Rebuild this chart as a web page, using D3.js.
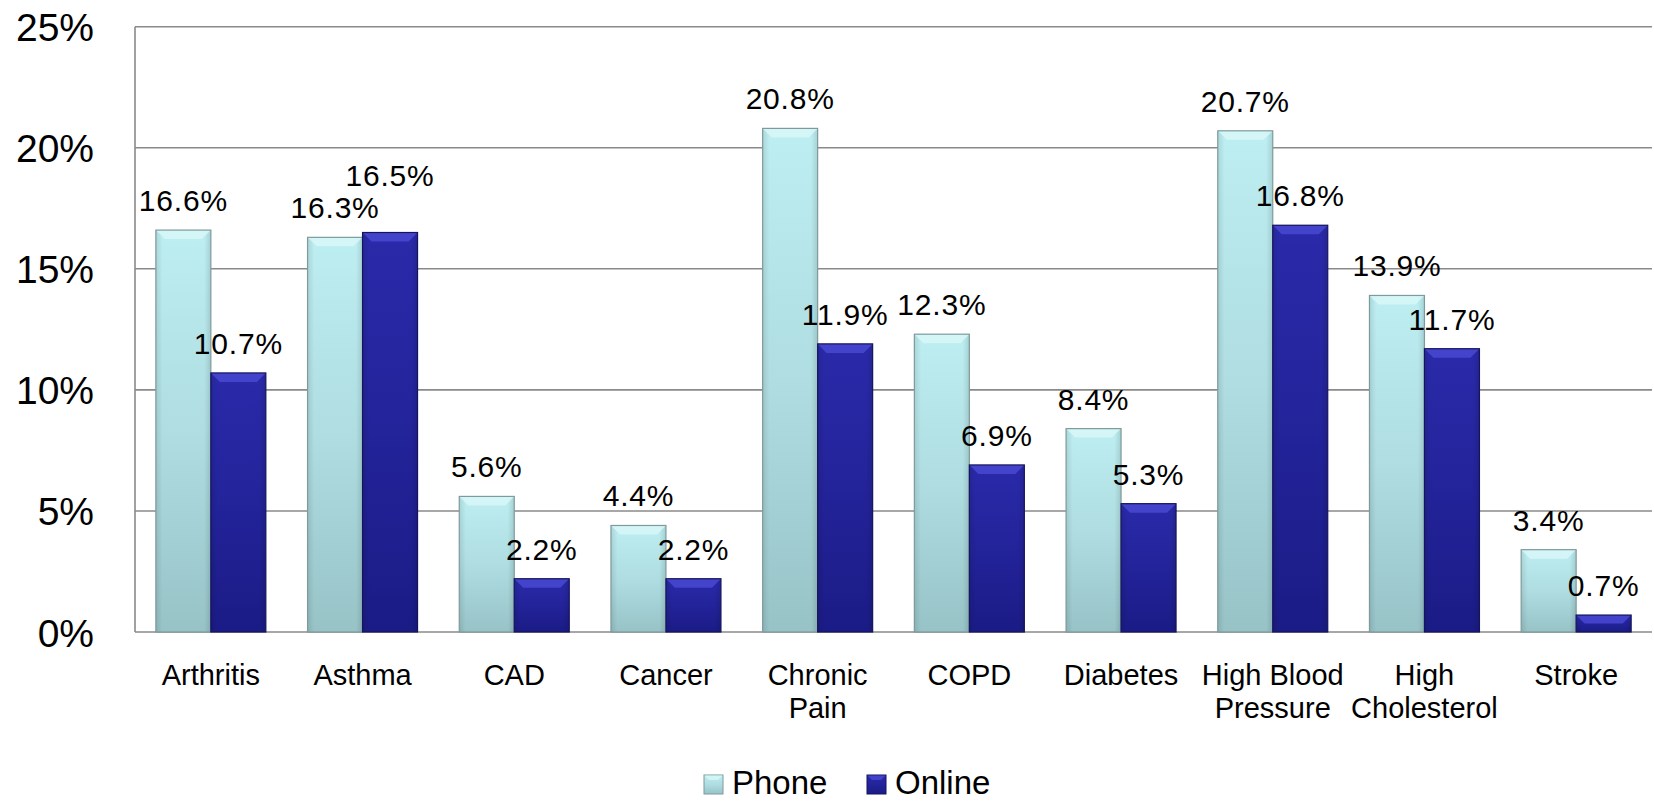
<!DOCTYPE html>
<html>
<head>
<meta charset="utf-8">
<script src="https://cdn.jsdelivr.net/npm/d3@7/dist/d3.min.js"></script>
<style>
  html, body { margin: 0; padding: 0; background: #fff; }
  svg { display: block; font-family: "Liberation Sans", Arial, sans-serif; }
</style>
</head>
<body>
<svg id="chart" width="1654" height="803"></svg>
<script>
// Condition prevalence by survey mode
const categories = ["Arthritis", "Asthma", "CAD", "Cancer", "Chronic Pain", "COPD",
  "Diabetes", "High Blood Pressure", "High Cholesterol", "Stroke"];
const tickLabels = [["Arthritis"], ["Asthma"], ["CAD"], ["Cancer"], ["Chronic", "Pain"], ["COPD"],
  ["Diabetes"], ["High Blood", "Pressure"], ["High", "Cholesterol"], ["Stroke"]];
const phone  = [16.6, 16.3, 5.6, 4.4, 20.8, 12.3, 8.4, 20.7, 13.9, 3.4];
const online = [10.7, 16.5, 2.2, 2.2, 11.9, 6.9, 5.3, 16.8, 11.7, 0.7];
const seriesNames = ["Phone", "Online"];
const yTicks = [0, 5, 10, 15, 20, 25];

const svg = d3.select("#chart");
const plotLeft = 135, plotRight = 1652, plotTop = 26.7, plotBottom = 632;

const x = d3.scaleBand().domain(categories).range([plotLeft, plotRight])
  .paddingInner(0.275).paddingOuter(0.1375);
const xs = d3.scaleBand().domain(seriesNames).range([0, x.bandwidth()]);
const y = d3.scaleLinear().domain([0, 25]).range([plotBottom, plotTop]);

// gradients
const defs = svg.append("defs");
function vgrad(id, stops) {
  const g = defs.append("linearGradient").attr("id", id)
    .attr("x1", 0).attr("y1", 0).attr("x2", 0).attr("y2", 1);
  stops.forEach(([o, c]) => g.append("stop").attr("offset", o).attr("stop-color", c));
}
function hgrad(id, stops) {
  const g = defs.append("linearGradient").attr("id", id)
    .attr("x1", 0).attr("y1", 0).attr("x2", 1).attr("y2", 0);
  stops.forEach(([o, c, a]) => g.append("stop").attr("offset", o)
    .attr("stop-color", c).attr("stop-opacity", a));
}
vgrad("gPhone", [[0, "#bdeef1"], [0.5, "#afdde1"], [1, "#97c3c7"]]);
vgrad("gOnline", [[0, "#2a2aaa"], [0.5, "#23239a"], [1, "#1b1b86"]]);
hgrad("gSide", [[0, "#000", 0.10], [0.12, "#000", 0.0], [0.88, "#000", 0.0], [1, "#000", 0.12]]);

const styles = {
  Phone:  { fill: "url(#gPhone)", stroke: "#7f9a9c", cap: "#d8f7f8" },
  Online: { fill: "url(#gOnline)", stroke: "#15155e", cap: "#4848d2" }
};

// gridlines
const grid = svg.append("g");
grid.selectAll("line").data(yTicks).join("line")
  .attr("x1", plotLeft).attr("x2", plotRight)
  .attr("y1", d => y(d)).attr("y2", d => y(d))
  .attr("stroke", "#8a8a8a").attr("stroke-width", 1.6);
svg.append("line").attr("x1", plotLeft).attr("x2", plotLeft).attr("y1", plotTop).attr("y2", plotBottom)
  .attr("stroke", "#8a8a8a").attr("stroke-width", 1.6);

// y axis labels
const yAxis = d3.axisLeft(y).tickValues(yTicks).tickFormat(d => d + "%").tickSize(0).tickPadding(0);
const yg = svg.append("g").attr("transform", "translate(94,0)").call(yAxis);
yg.select(".domain").remove();
yg.selectAll("text").attr("font-size", 39).attr("fill", "#000")
  .attr("font-family", "Liberation Sans, Arial, sans-serif").attr("dy", "0.36em");

// bars
const rows = categories.map((c, i) => ({ c, vals: [{ s: "Phone", v: phone[i] }, { s: "Online", v: online[i] }] }));
const groups = svg.append("g").selectAll("g").data(rows).join("g")
  .attr("transform", d => `translate(${x(d.c)},0)`);

const bars = groups.selectAll("g.bar").data(d => d.vals).join("g").attr("class", "bar");
bars.each(function(d) {
  const g = d3.select(this);
  const bx = xs(d.s), bw = xs.bandwidth();
  const by = y(d.v), bh = y(0) - y(d.v);
  const st = styles[d.s];
  g.append("rect").attr("x", bx).attr("y", by).attr("width", bw).attr("height", bh)
    .attr("fill", st.fill);
  g.append("rect").attr("x", bx).attr("y", by).attr("width", bw).attr("height", bh)
    .attr("fill", "url(#gSide)");
  // bevelled top
  const bev = Math.min(9, bh / 2);
  g.append("path")
    .attr("d", `M${bx},${by} L${bx + bw},${by} L${bx + bw - bev},${by + bev} L${bx + bev},${by + bev} Z`)
    .attr("fill", st.cap).attr("opacity", 0.85);
  g.append("rect").attr("x", bx).attr("y", by).attr("width", bw).attr("height", bh)
    .attr("fill", "none").attr("stroke", st.stroke).attr("stroke-width", 1.2);
});

// value labels; an Online label that would collide with its Phone neighbour is lifted above it
const labelGap = 19, lineStep = 32;
function labelY(d, row) {
  const base = y(d.v) - labelGap;
  if (d.s === "Online") {
    const pBase = y(row.vals[0].v) - labelGap;
    if (Math.abs(base - pBase) < lineStep) return Math.min(base, pBase - lineStep);
  }
  return base;
}
groups.each(function(row) {
  d3.select(this).selectAll("text.val").data(row.vals).join("text").attr("class", "val")
    .attr("x", d => xs(d.s) + xs.bandwidth() / 2)
    .attr("y", d => labelY(d, row))
    .attr("text-anchor", "middle")
    .attr("font-size", 30).attr("letter-spacing", 0.8).attr("fill", "#000")
    .text(d => d.v.toFixed(1) + "%");
});

// x axis labels
const xl = svg.append("g").selectAll("text").data(categories).join("text")
  .attr("x", d => x(d) + x.bandwidth() / 2)
  .attr("y", 685)
  .attr("text-anchor", "middle")
  .attr("font-size", 29).attr("fill", "#000");
xl.each(function(d, i) {
  const t = d3.select(this);
  tickLabels[i].forEach((line, k) => {
    t.append("tspan").attr("x", x(d) + x.bandwidth() / 2).attr("dy", k === 0 ? 0 : 33).text(line);
  });
});

// legend
const legendItems = [
  { name: "Phone", fill: "url(#gPhone)", stroke: "#7f9a9c", cap: "#d8f7f8", x: 704 },
  { name: "Online", fill: "url(#gOnline)", stroke: "#15155e", cap: "#4848d2", x: 867 }
];
const lg = svg.append("g").selectAll("g").data(legendItems).join("g")
  .attr("transform", d => `translate(${d.x},775)`);
lg.append("rect").attr("width", 19).attr("height", 19).attr("fill", d => d.fill)
  .attr("stroke", d => d.stroke).attr("stroke-width", 1);
lg.append("path").attr("d", "M0.5,0.5 L18.5,0.5 L14,5 L5,5 Z").attr("fill", d => d.cap).attr("opacity", 0.8);
lg.append("text").attr("x", 28).attr("y", 19).attr("font-size", 33).attr("fill", "#000")
  .text(d => d.name);
</script>
</body>
</html>
